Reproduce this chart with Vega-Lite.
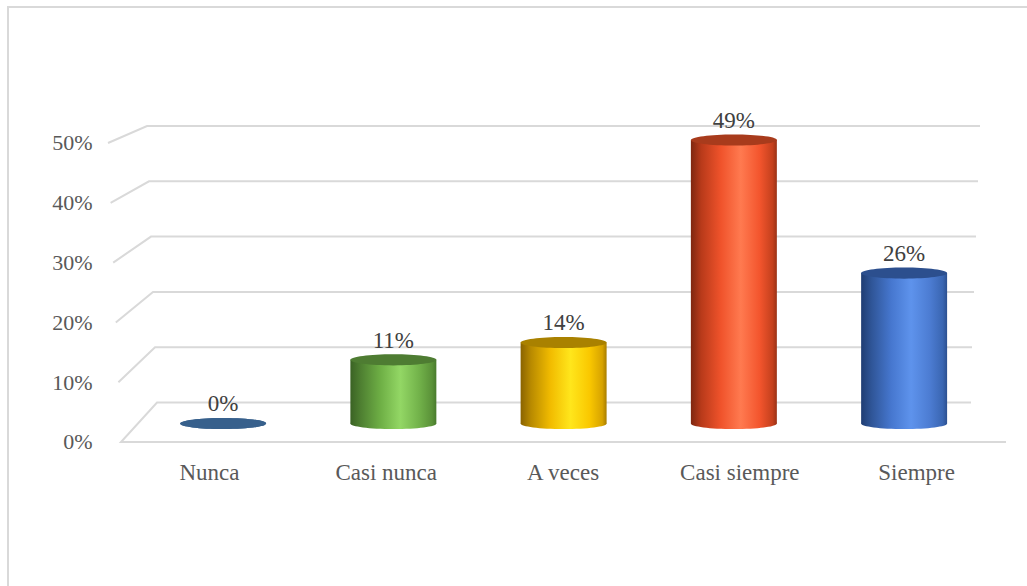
{
  "$schema": "https://vega.github.io/schema/vega-lite/v6.json",
  "width": 1021,
  "height": 590,
  "autosize": {"type": "none"},
  "padding": {"left": 8, "top": 7, "right": -2, "bottom": -11},
  "background": "white",
  "config": {
    "view": {"stroke": "#D9D9D9", "strokeWidth": 2},
    "font": "Liberation Serif"
  },
  "datasets": {
    "respuestas": [
      {"cat": "Nunca", "value": 0},
      {"cat": "Casi nunca", "value": 0.11},
      {"cat": "A veces", "value": 0.14},
      {"cat": "Casi siempre", "value": 0.49},
      {"cat": "Siempre", "value": 0.26}
    ],
    "marcas": [
      {"v": 0}, {"v": 0.1}, {"v": 0.2}, {"v": 0.3}, {"v": 0.4}, {"v": 0.5}
    ]
  },
  "resolve": {"scale": {"x": "independent", "y": "independent", "shape": "independent", "color": "independent"}, "axis": {"x": "independent", "y": "independent"}},
  "layer": [
    {
      "description": "Back wall gridlines with their perspective floor edges",
      "data": {"name": "marcas"},
      "mark": {"type": "point", "filled": false, "size": 4, "stroke": "#D9D9D9", "strokeWidth": 2, "opacity": 1, "strokeJoin": "miter"},
      "encoding": {
        "x": {"datum": "Nunca", "type": "nominal", "bandPosition": 0,
              "scale": {"type": "band", "domain": ["Nunca", "Casi nunca", "A veces", "Casi siempre", "Siempre"], "paddingInner": 0, "paddingOuter": 0.3874, "align": 0.825},
              "axis": null},
        "y": {"field": "v", "type": "quantitative",
              "scale": {"domain": [-0.3517, 0.7152], "nice": false, "zero": false},
              "axis": null},
        "shape": {"field": "v", "type": "ordinal",
                  "scale": {"domain": [0, 0.1, 0.2, 0.3, 0.4, 0.5],
                            "range": [
                              "M885,39.5L0,39.5L36,0L850,0",
                              "M-2.6,35L34,0L851,0",
                              "M-5.2,30.5L32,0L853,0",
                              "M-7.8,26L30,0L855,0",
                              "M-10.4,21.5L28,0L857,0",
                              "M-13,17L26,0L859,0"
                            ]},
                  "legend": null}
      }
    },
    {
      "description": "Category and percentage axes on the front plane",
      "data": {"name": "respuestas"},
      "mark": {"type": "point", "opacity": 0},
      "encoding": {
        "x": {"field": "cat", "type": "nominal",
              "sort": ["Nunca", "Casi nunca", "A veces", "Casi siempre", "Siempre"],
              "scale": {"type": "band", "domain": ["Nunca", "Casi nunca", "A veces", "Casi siempre", "Siempre"], "paddingInner": 0, "paddingOuter": 0.3874, "align": 0.825},
              "axis": {"orient": "bottom", "offset": -155, "domain": false, "ticks": false, "tickSize": 0, "grid": false,
                       "labelPadding": 37, "labelBaseline": "alphabetic", "labelAngle": 0,
                       "labelFont": "Liberation Serif", "labelFontSize": 23, "labelColor": "#595959",
                       "labelOverlap": false, "title": null}},
        "y": {"datum": 0, "type": "quantitative",
              "scale": {"domain": [-0.2592, 0.7274], "nice": false, "zero": false},
              "axis": {"orient": "left", "offset": -100, "values": [0, 0.1, 0.2, 0.3, 0.4, 0.5], "format": ".0%",
                       "domain": false, "ticks": false, "tickSize": 0, "grid": false,
                       "labelPadding": 16, "labelFont": "Liberation Serif", "labelFontSize": 22,
                       "labelColor": "#595959", "labelOverlap": false, "labelFlush": false, "title": null}}
      }
    },
    {
      "description": "Cylinders with value labels",
      "data": {"name": "respuestas"},
      "encoding": {
        "x": {"field": "cat", "type": "nominal",
              "sort": ["Nunca", "Casi nunca", "A veces", "Casi siempre", "Siempre"],
              "scale": {"type": "band", "domain": ["Nunca", "Casi nunca", "A veces", "Casi siempre", "Siempre"], "paddingInner": 0.495, "paddingOuter": 0.746, "align": 0.6776},
              "axis": null}
      },
      "layer": [
        {
          "mark": {"type": "point", "filled": true, "opacity": 1, "size": 7396, "strokeWidth": 0,
                   "shape": "M-1,0A1,0.13,0,1,1,1,0A1,0.13,0,1,1,-1,0Z"},
          "encoding": {
            "y": {"datum": 0, "type": "quantitative", "scale": {"domain": [-0.2999, 0.7199], "nice": false, "zero": false}, "axis": null},
            "color": {
              "condition": [
                {"test": "datum.cat === 'Casi nunca'", "value": {"gradient": "linear", "x1": 0, "x2": 1, "y1": 0, "y2": 0, "stops": [{"offset": 0, "color": "#3A6224"}, {"offset": 0.12, "color": "#4E7F31"}, {"offset": 0.35, "color": "#6EAF45"}, {"offset": 0.58, "color": "#93D765"}, {"offset": 0.8, "color": "#72B24A"}, {"offset": 0.95, "color": "#5A9138"}, {"offset": 1, "color": "#487A2C"}]}},
                {"test": "datum.cat === 'A veces'", "value": {"gradient": "linear", "x1": 0, "x2": 1, "y1": 0, "y2": 0, "stops": [{"offset": 0, "color": "#8A6300"}, {"offset": 0.12, "color": "#B88A00"}, {"offset": 0.35, "color": "#F2BC00"}, {"offset": 0.58, "color": "#FFE61C"}, {"offset": 0.8, "color": "#FAC800"}, {"offset": 0.95, "color": "#D7A300"}, {"offset": 1, "color": "#A87D00"}]}},
                {"test": "datum.cat === 'Casi siempre'", "value": {"gradient": "linear", "x1": 0, "x2": 1, "y1": 0, "y2": 0, "stops": [{"offset": 0, "color": "#7E2710"}, {"offset": 0.12, "color": "#B83A1A"}, {"offset": 0.35, "color": "#F0532B"}, {"offset": 0.58, "color": "#FF7A50"}, {"offset": 0.8, "color": "#F3552D"}, {"offset": 0.95, "color": "#C4401D"}, {"offset": 1, "color": "#9A3216"}]}},
                {"test": "datum.cat === 'Siempre'", "value": {"gradient": "linear", "x1": 0, "x2": 1, "y1": 0, "y2": 0, "stops": [{"offset": 0, "color": "#1F3D73"}, {"offset": 0.12, "color": "#2F5597"}, {"offset": 0.35, "color": "#4677CF"}, {"offset": 0.58, "color": "#5E93EC"}, {"offset": 0.8, "color": "#4C7CD2"}, {"offset": 0.95, "color": "#3A66B2"}, {"offset": 1, "color": "#2C5090"}]}}
              ],
              "value": "#37608C"
            }
          }
        },
        {
          "mark": {"type": "bar", "width": {"band": 1}, "strokeWidth": 0},
          "encoding": {
            "y": {"field": "value", "type": "quantitative", "scale": {"domain": [-0.2999, 0.7199], "nice": false, "zero": false}, "axis": null},
            "y2": {"datum": 0},
            "color": {
              "condition": [
                {"test": "datum.cat === 'Casi nunca'", "value": {"gradient": "linear", "x1": 0, "x2": 1, "y1": 0, "y2": 0, "stops": [{"offset": 0, "color": "#3A6224"}, {"offset": 0.12, "color": "#4E7F31"}, {"offset": 0.35, "color": "#6EAF45"}, {"offset": 0.58, "color": "#93D765"}, {"offset": 0.8, "color": "#72B24A"}, {"offset": 0.95, "color": "#5A9138"}, {"offset": 1, "color": "#487A2C"}]}},
                {"test": "datum.cat === 'A veces'", "value": {"gradient": "linear", "x1": 0, "x2": 1, "y1": 0, "y2": 0, "stops": [{"offset": 0, "color": "#8A6300"}, {"offset": 0.12, "color": "#B88A00"}, {"offset": 0.35, "color": "#F2BC00"}, {"offset": 0.58, "color": "#FFE61C"}, {"offset": 0.8, "color": "#FAC800"}, {"offset": 0.95, "color": "#D7A300"}, {"offset": 1, "color": "#A87D00"}]}},
                {"test": "datum.cat === 'Casi siempre'", "value": {"gradient": "linear", "x1": 0, "x2": 1, "y1": 0, "y2": 0, "stops": [{"offset": 0, "color": "#7E2710"}, {"offset": 0.12, "color": "#B83A1A"}, {"offset": 0.35, "color": "#F0532B"}, {"offset": 0.58, "color": "#FF7A50"}, {"offset": 0.8, "color": "#F3552D"}, {"offset": 0.95, "color": "#C4401D"}, {"offset": 1, "color": "#9A3216"}]}},
                {"test": "datum.cat === 'Siempre'", "value": {"gradient": "linear", "x1": 0, "x2": 1, "y1": 0, "y2": 0, "stops": [{"offset": 0, "color": "#1F3D73"}, {"offset": 0.12, "color": "#2F5597"}, {"offset": 0.35, "color": "#4677CF"}, {"offset": 0.58, "color": "#5E93EC"}, {"offset": 0.8, "color": "#4C7CD2"}, {"offset": 0.95, "color": "#3A66B2"}, {"offset": 1, "color": "#2C5090"}]}}
              ],
              "value": "#37608C"
            }
          }
        },
        {
          "mark": {"type": "point", "filled": true, "opacity": 1, "size": 7396, "strokeWidth": 0,
                   "shape": "M-1,0A1,0.13,0,1,1,1,0A1,0.13,0,1,1,-1,0Z"},
          "encoding": {
            "y": {"field": "value", "type": "quantitative", "scale": {"domain": [-0.2999, 0.7199], "nice": false, "zero": false}, "axis": null},
            "color": {
              "condition": [
                {"test": "datum.cat === 'Casi nunca'", "value": "#4E7C32"},
                {"test": "datum.cat === 'A veces'", "value": "#A98100"},
                {"test": "datum.cat === 'Casi siempre'", "value": "#A83B1C"},
                {"test": "datum.cat === 'Siempre'", "value": "#2C4F8E"}
              ],
              "value": "#37608C"
            }
          }
        },
        {
          "mark": {"type": "text", "dy": -12, "baseline": "alphabetic", "align": "center",
                   "font": "Liberation Serif", "fontSize": 23, "color": "#404040"},
          "encoding": {
            "y": {"field": "value", "type": "quantitative", "scale": {"domain": [-0.2999, 0.7199], "nice": false, "zero": false}, "axis": null},
            "text": {"field": "value", "type": "quantitative", "format": ".0%"}
          }
        }
      ]
    }
  ]
}
